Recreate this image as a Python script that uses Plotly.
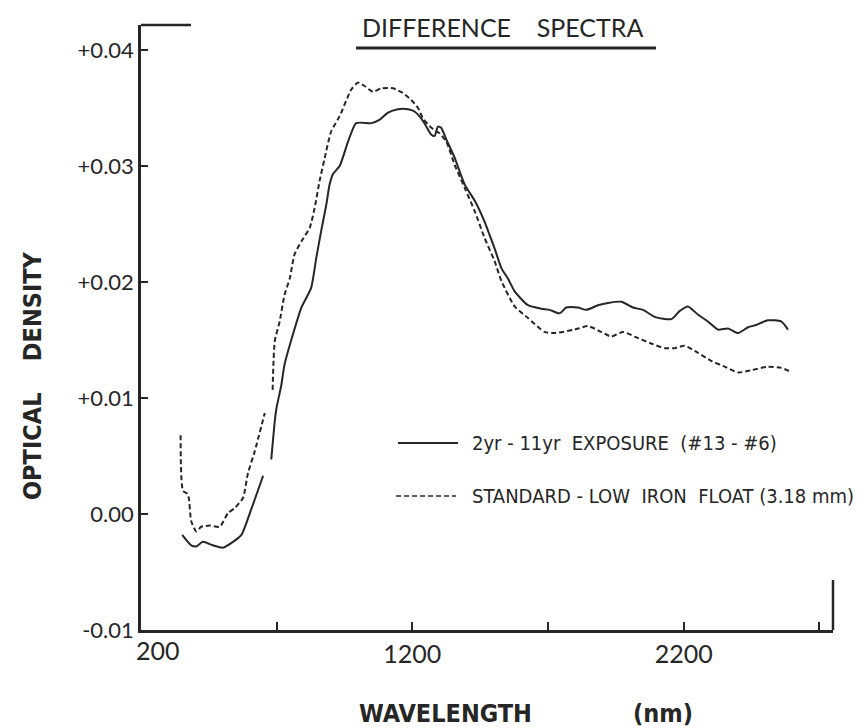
import plotly.graph_objects as go

# ---- data ----
solid_wl_a = [352, 385, 404, 428, 465, 502, 539, 570, 606, 650]
solid_od_a = [-0.0018, -0.0027, -0.0028, -0.0024, -0.0027, -0.0029, -0.0024, -0.0018, 0.0004, 0.0033]
solid_wl_b = [680, 693, 699, 717, 729, 760, 791, 827, 846, 864, 883, 895, 907, 932, 963, 993,
              1049, 1080, 1110, 1147, 1184, 1208, 1239, 1270, 1282, 1294, 1306, 1325, 1356, 1393,
              1430, 1466, 1479, 1503, 1528, 1552, 1577, 1626, 1675, 1706, 1743, 1767, 1810, 1841,
              1884, 1921, 1970, 2013, 2050, 2093, 2154, 2185, 2215, 2252, 2289, 2326, 2363, 2400,
              2437, 2467, 2510, 2559, 2584]
solid_od_b = [0.0047, 0.0080, 0.0091, 0.0111, 0.0129, 0.0155, 0.0178, 0.0195, 0.0221, 0.0244,
              0.0267, 0.0284, 0.0293, 0.0300, 0.0321, 0.0337, 0.0337, 0.0340, 0.0346, 0.0349,
              0.0349, 0.0347, 0.0339, 0.0327, 0.0326, 0.0334, 0.0333, 0.0323, 0.0307, 0.0284,
              0.0270, 0.0252, 0.0244, 0.0229, 0.0212, 0.0203, 0.0192, 0.0180, 0.0177, 0.0176,
              0.0173, 0.0178, 0.0178, 0.0176, 0.0180, 0.0182, 0.0183, 0.0178, 0.0176, 0.0170,
              0.0168, 0.0175, 0.0179, 0.0172, 0.0166, 0.0159, 0.0160, 0.0156, 0.0161, 0.0163,
              0.0167, 0.0166, 0.0159]

dashed_wl_a = [346, 355, 373, 385, 404, 422, 453, 490, 521, 545, 576, 594, 619, 656]
dashed_od_a = [0.0068, 0.0020, 0.0017, -0.0006, -0.0015, -0.0011, -0.0010, -0.0011, 0.0001,
               0.0005, 0.0014, 0.0035, 0.0054, 0.0087]
dashed_wl_b = [685, 693, 711, 729, 748, 766, 791, 822, 840, 858, 877, 901, 932, 975, 1000, 1024,
               1055, 1085, 1129, 1165, 1196, 1221, 1239, 1270, 1301, 1325, 1356, 1393, 1430, 1466,
               1503, 1528, 1577, 1626, 1687, 1724, 1798, 1847, 1896, 1933, 1976, 2019, 2080, 2130,
               2166, 2203, 2252, 2301, 2351, 2400, 2449, 2510, 2559, 2590]
dashed_od_b = [0.0107, 0.0149, 0.0166, 0.0189, 0.0203, 0.0224, 0.0235, 0.0247, 0.0264, 0.0287,
               0.0307, 0.0330, 0.0343, 0.0366, 0.0372, 0.0369, 0.0364, 0.0367, 0.0367, 0.0363,
               0.0357, 0.0350, 0.0341, 0.0333, 0.0328, 0.0321, 0.0301, 0.0281, 0.0261, 0.0238,
               0.0218, 0.0201, 0.0179, 0.0169, 0.0157, 0.0156, 0.0159, 0.0162, 0.0157, 0.0153,
               0.0157, 0.0153, 0.0147, 0.0143, 0.0143, 0.0145, 0.0139, 0.0132, 0.0127, 0.0122,
               0.0124, 0.0127, 0.0126, 0.0123]

x_tickvals = [700, 1200, 1700, 2200, 2700]
x_ticktext = ["", "1200", "", "2200", ""]
x_first_label = "200"
y_tickvals = [-0.01, 0.0, 0.01, 0.02, 0.03, 0.04]
y_ticktext = ["-0.01", "0.00", "+0.01", "+0.02", "+0.03", "+0.04"]

series_names = ["2yr - 11yr  EXPOSURE  (#13 - #6)",
                "STANDARD - LOW  IRON  FLOAT (3.18 mm)"]
title_text = "DIFFERENCE    SPECTRA"
x_title = "WAVELENGTH"
x_unit = "(nm)"
y_title = "OPTICAL    DENSITY"

INK = "#262626"
COND = "DejaVu Sans Condensed, Liberation Sans Narrow, Roboto Condensed, DejaVu Sans, sans-serif"
GEO = "Lato, Noto Sans, sans-serif"

fig = go.Figure()
fig.add_trace(go.Scatter(
    x=solid_wl_a + [None] + solid_wl_b, y=solid_od_a + [None] + solid_od_b,
    mode="lines", name=series_names[0], connectgaps=False,
    line=dict(color=INK, width=2, shape="spline", smoothing=0.6), showlegend=False))
fig.add_trace(go.Scatter(
    x=dashed_wl_a + [None] + dashed_wl_b, y=dashed_od_a + [None] + dashed_od_b,
    mode="lines", name=series_names[1], connectgaps=False,
    line=dict(color=INK, width=2, dash="5px,3px", shape="spline", smoothing=0.6), showlegend=False))

fig.update_layout(
    width=864, height=728,
    margin=dict(l=133, r=39, t=17, b=106),
    paper_bgcolor="white", plot_bgcolor="white",
    font=dict(family=GEO, color=INK),
    xaxis=dict(range=[200, 2750], showgrid=False, zeroline=False,
               showline=True, linecolor=INK, linewidth=2.5,
               ticks="inside", ticklen=8, tickwidth=2, tickcolor=INK,
               tickvals=x_tickvals, ticktext=x_ticktext,
               tickfont=dict(family=GEO, size=25, color=INK)),
    yaxis=dict(range=[-0.01, 0.04216], showgrid=False, zeroline=False,
               showline=True, linecolor=INK, linewidth=2.5,
               ticks="inside", ticklen=7, tickwidth=2, tickcolor=INK,
               tickvals=y_tickvals, ticktext=y_ticktext,
               tickfont=dict(family=GEO, size=22, color=INK)),
)

# first x label, sitting just right of the axis corner
fig.add_annotation(x=200, y=0, xref="x", yref="paper", text=x_first_label,
                   showarrow=False, xanchor="center", yanchor="top", xshift=17, yshift=-3,
                   font=dict(family=GEO, size=25, color=INK))

shapes = [
    # top stub of left axis
    dict(type="line", xref="paper", yref="paper", x0=0, x1=0.0723, y0=1, y1=1,
         line=dict(color=INK, width=2.5)),
    # right stub
    dict(type="line", xref="paper", yref="paper", x0=1, x1=1, y0=0, y1=0.0826,
         line=dict(color=INK, width=2.5)),
    # title underline
    dict(type="line", xref="paper", yref="paper", x0=0.3107, x1=0.7442, y0=0.962, y1=0.962,
         line=dict(color=INK, width=3)),
    # legend samples
    dict(type="line", xref="paper", yref="paper", x0=0.3714, x1=0.4581, y0=0.3091, y1=0.3091,
         line=dict(color=INK, width=2)),
    dict(type="line", xref="paper", yref="paper", x0=0.3685, x1=0.4552, y0=0.2215, y1=0.2215,
         line=dict(color=INK, width=1.5, dash="5px,3px")),
]
fig.update_layout(shapes=shapes)

ann = [
    dict(x=0.4754, y=0.3091, text=series_names[0], xanchor="left", yanchor="middle",
         font=dict(family=COND, size=20, color=INK)),
    dict(x=0.4754, y=0.2215, text=series_names[1], xanchor="left", yanchor="middle",
         font=dict(family=COND, size=20, color=INK)),
    dict(x=0.523, y=0.997, text=title_text, xanchor="center", yanchor="middle",
         font=dict(family=GEO, size=25, color=INK)),
    dict(x=0.44, y=-0.1388, text="<b>" + x_title + "</b>", xanchor="center", yanchor="middle",
         font=dict(family=COND, size=25, color=INK)),
    dict(x=0.754, y=-0.1388, text="<b>" + x_unit + "</b>", xanchor="center", yanchor="middle",
         font=dict(family=COND, size=25, color=INK)),
    dict(x=-0.156, y=0.4199, text="<b>" + y_title + "</b>", xanchor="center", yanchor="middle",
         textangle=-90, font=dict(family=COND, size=25, color=INK)),
]
for a in ann:
    fig.add_annotation(xref="paper", yref="paper", showarrow=False, **a)

fig.write_html("out.html")
